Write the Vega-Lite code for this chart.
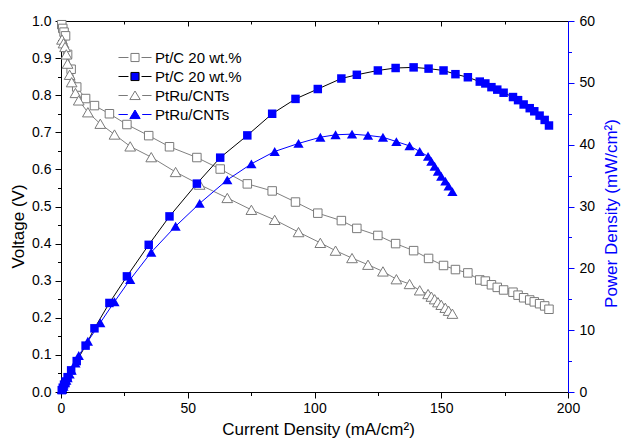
{
  "$schema": "https://vega.github.io/schema/vega-lite/v6.json",
  "width": 507,
  "height": 371,
  "autosize": "none",
  "padding": {"left": 61, "top": 21, "right": 53, "bottom": 47},
  "background": "white",
  "config": {
    "view": {"stroke": null},
    "font": "Liberation Sans",
    "axis": {
      "labelFont": "Liberation Sans",
      "titleFont": "Liberation Sans",
      "labelFontSize": 14,
      "titleFontSize": 17,
      "titleFontWeight": "normal",
      "labelColor": "black",
      "titleColor": "black",
      "domainColor": "black",
      "tickColor": "black",
      "domainWidth": 1,
      "tickWidth": 1,
      "grid": false,
      "labelFlush": false,
      "labelOverlap": false
    },
    "legend": {
      "orient": "none",
      "legendX": 66.5,
      "legendY": 29,
      "padding": 0,
      "symbolSize": 81,
      "symbolStrokeWidth": 1,
      "symbolOpacity": 1,
      "labelOffset": 12.5,
      "rowPadding": 3,
      "labelFont": "Liberation Sans",
      "labelFontSize": 15,
      "labelColor": "black"
    }
  },
  "datasets": {
    "voltage": [
      {"series": "PtC_V", "I": 0.3, "V": 0.99},
      {"series": "PtC_V", "I": 0.7, "V": 0.98},
      {"series": "PtC_V", "I": 1.2, "V": 0.97},
      {"series": "PtC_V", "I": 1.8, "V": 0.96},
      {"series": "PtC_V", "I": 2.6, "V": 0.91},
      {"series": "PtC_V", "I": 4.0, "V": 0.87},
      {"series": "PtC_V", "I": 6.2, "V": 0.822},
      {"series": "PtC_V", "I": 9.7, "V": 0.791},
      {"series": "PtC_V", "I": 13.2, "V": 0.772},
      {"series": "PtC_V", "I": 19.1, "V": 0.75},
      {"series": "PtC_V", "I": 26.0, "V": 0.721},
      {"series": "PtC_V", "I": 34.6, "V": 0.691},
      {"series": "PtC_V", "I": 42.8, "V": 0.661},
      {"series": "PtC_V", "I": 53.6, "V": 0.632},
      {"series": "PtC_V", "I": 62.8, "V": 0.601},
      {"series": "PtC_V", "I": 73.5, "V": 0.561},
      {"series": "PtC_V", "I": 83.3, "V": 0.542},
      {"series": "PtC_V", "I": 92.5, "V": 0.512},
      {"series": "PtC_V", "I": 101.3, "V": 0.482},
      {"series": "PtC_V", "I": 110.6, "V": 0.462},
      {"series": "PtC_V", "I": 116.7, "V": 0.441},
      {"series": "PtC_V", "I": 125.0, "V": 0.422},
      {"series": "PtC_V", "I": 132.0, "V": 0.4},
      {"series": "PtC_V", "I": 139.1, "V": 0.381},
      {"series": "PtC_V", "I": 145.0, "V": 0.36},
      {"series": "PtC_V", "I": 150.9, "V": 0.341},
      {"series": "PtC_V", "I": 155.6, "V": 0.33},
      {"series": "PtC_V", "I": 160.5, "V": 0.321},
      {"series": "PtC_V", "I": 165.2, "V": 0.302},
      {"series": "PtC_V", "I": 167.4, "V": 0.299},
      {"series": "PtC_V", "I": 169.8, "V": 0.289},
      {"series": "PtC_V", "I": 172.1, "V": 0.282},
      {"series": "PtC_V", "I": 174.6, "V": 0.275},
      {"series": "PtC_V", "I": 178.3, "V": 0.269},
      {"series": "PtC_V", "I": 180.3, "V": 0.261},
      {"series": "PtC_V", "I": 182.5, "V": 0.254},
      {"series": "PtC_V", "I": 184.9, "V": 0.248},
      {"series": "PtC_V", "I": 186.7, "V": 0.243},
      {"series": "PtC_V", "I": 188.8, "V": 0.238},
      {"series": "PtC_V", "I": 190.8, "V": 0.232},
      {"series": "PtC_V", "I": 192.5, "V": 0.223},
      {"series": "PtRu_V", "I": 0.4, "V": 0.95},
      {"series": "PtRu_V", "I": 1.0, "V": 0.94},
      {"series": "PtRu_V", "I": 1.6, "V": 0.93},
      {"series": "PtRu_V", "I": 2.1, "V": 0.91},
      {"series": "PtRu_V", "I": 2.6, "V": 0.885},
      {"series": "PtRu_V", "I": 3.4, "V": 0.855},
      {"series": "PtRu_V", "I": 4.2, "V": 0.835},
      {"series": "PtRu_V", "I": 5.7, "V": 0.806},
      {"series": "PtRu_V", "I": 7.0, "V": 0.786},
      {"series": "PtRu_V", "I": 10.6, "V": 0.754},
      {"series": "PtRu_V", "I": 15.5, "V": 0.723},
      {"series": "PtRu_V", "I": 21.1, "V": 0.694},
      {"series": "PtRu_V", "I": 27.3, "V": 0.662},
      {"series": "PtRu_V", "I": 35.6, "V": 0.633},
      {"series": "PtRu_V", "I": 45.2, "V": 0.593},
      {"series": "PtRu_V", "I": 54.7, "V": 0.559},
      {"series": "PtRu_V", "I": 65.6, "V": 0.523},
      {"series": "PtRu_V", "I": 75.1, "V": 0.491},
      {"series": "PtRu_V", "I": 84.3, "V": 0.464},
      {"series": "PtRu_V", "I": 93.7, "V": 0.431},
      {"series": "PtRu_V", "I": 102.3, "V": 0.402},
      {"series": "PtRu_V", "I": 108.3, "V": 0.381},
      {"series": "PtRu_V", "I": 114.8, "V": 0.361},
      {"series": "PtRu_V", "I": 121.1, "V": 0.343},
      {"series": "PtRu_V", "I": 127.0, "V": 0.325},
      {"series": "PtRu_V", "I": 132.3, "V": 0.304},
      {"series": "PtRu_V", "I": 137.5, "V": 0.291},
      {"series": "PtRu_V", "I": 141.5, "V": 0.274},
      {"series": "PtRu_V", "I": 144.8, "V": 0.264},
      {"series": "PtRu_V", "I": 146.1, "V": 0.257},
      {"series": "PtRu_V", "I": 147.4, "V": 0.25},
      {"series": "PtRu_V", "I": 148.7, "V": 0.242},
      {"series": "PtRu_V", "I": 150.0, "V": 0.235},
      {"series": "PtRu_V", "I": 151.6, "V": 0.227},
      {"series": "PtRu_V", "I": 152.9, "V": 0.219},
      {"series": "PtRu_V", "I": 154.4, "V": 0.211}
    ],
    "power": [
      {"series": "PtC_P", "I": 0.3, "P": 0.3},
      {"series": "PtC_P", "I": 0.7, "P": 0.7},
      {"series": "PtC_P", "I": 1.2, "P": 1.2},
      {"series": "PtC_P", "I": 1.8, "P": 1.7},
      {"series": "PtC_P", "I": 2.6, "P": 2.4},
      {"series": "PtC_P", "I": 4.0, "P": 3.5},
      {"series": "PtC_P", "I": 6.2, "P": 5.0},
      {"series": "PtC_P", "I": 9.7, "P": 7.5},
      {"series": "PtC_P", "I": 13.2, "P": 10.3},
      {"series": "PtC_P", "I": 19.1, "P": 14.4},
      {"series": "PtC_P", "I": 26.0, "P": 18.7},
      {"series": "PtC_P", "I": 34.6, "P": 23.8},
      {"series": "PtC_P", "I": 42.8, "P": 28.4},
      {"series": "PtC_P", "I": 53.6, "P": 33.7},
      {"series": "PtC_P", "I": 62.8, "P": 37.9},
      {"series": "PtC_P", "I": 73.5, "P": 41.5},
      {"series": "PtC_P", "I": 83.3, "P": 45.0},
      {"series": "PtC_P", "I": 92.5, "P": 47.4},
      {"series": "PtC_P", "I": 101.3, "P": 49.0},
      {"series": "PtC_P", "I": 110.6, "P": 50.7},
      {"series": "PtC_P", "I": 116.7, "P": 51.3},
      {"series": "PtC_P", "I": 125.0, "P": 52.0},
      {"series": "PtC_P", "I": 132.0, "P": 52.4},
      {"series": "PtC_P", "I": 139.1, "P": 52.5},
      {"series": "PtC_P", "I": 145.0, "P": 52.3},
      {"series": "PtC_P", "I": 150.9, "P": 52.0},
      {"series": "PtC_P", "I": 155.6, "P": 51.4},
      {"series": "PtC_P", "I": 160.5, "P": 50.9},
      {"series": "PtC_P", "I": 165.2, "P": 50.2},
      {"series": "PtC_P", "I": 167.4, "P": 49.9},
      {"series": "PtC_P", "I": 169.8, "P": 49.3},
      {"series": "PtC_P", "I": 172.1, "P": 48.9},
      {"series": "PtC_P", "I": 174.6, "P": 48.4},
      {"series": "PtC_P", "I": 178.3, "P": 47.7},
      {"series": "PtC_P", "I": 180.3, "P": 47.2},
      {"series": "PtC_P", "I": 182.5, "P": 46.5},
      {"series": "PtC_P", "I": 184.9, "P": 45.9},
      {"series": "PtC_P", "I": 186.7, "P": 45.4},
      {"series": "PtC_P", "I": 188.8, "P": 44.7},
      {"series": "PtC_P", "I": 190.8, "P": 44.0},
      {"series": "PtC_P", "I": 192.5, "P": 43.1},
      {"series": "PtRu_P", "I": 0.4, "P": 0.4},
      {"series": "PtRu_P", "I": 1.0, "P": 0.9},
      {"series": "PtRu_P", "I": 1.6, "P": 1.5},
      {"series": "PtRu_P", "I": 2.1, "P": 1.9},
      {"series": "PtRu_P", "I": 2.6, "P": 2.3},
      {"series": "PtRu_P", "I": 3.4, "P": 2.9},
      {"series": "PtRu_P", "I": 4.2, "P": 3.5},
      {"series": "PtRu_P", "I": 5.7, "P": 4.7},
      {"series": "PtRu_P", "I": 7.0, "P": 5.9},
      {"series": "PtRu_P", "I": 10.6, "P": 8.2},
      {"series": "PtRu_P", "I": 15.5, "P": 11.2},
      {"series": "PtRu_P", "I": 21.1, "P": 14.6},
      {"series": "PtRu_P", "I": 27.3, "P": 18.2},
      {"series": "PtRu_P", "I": 35.6, "P": 22.6},
      {"series": "PtRu_P", "I": 45.2, "P": 26.8},
      {"series": "PtRu_P", "I": 54.7, "P": 30.5},
      {"series": "PtRu_P", "I": 65.6, "P": 34.3},
      {"series": "PtRu_P", "I": 75.1, "P": 36.9},
      {"series": "PtRu_P", "I": 84.3, "P": 38.9},
      {"series": "PtRu_P", "I": 93.7, "P": 40.2},
      {"series": "PtRu_P", "I": 102.3, "P": 41.2},
      {"series": "PtRu_P", "I": 108.3, "P": 41.6},
      {"series": "PtRu_P", "I": 114.8, "P": 41.7},
      {"series": "PtRu_P", "I": 121.1, "P": 41.5},
      {"series": "PtRu_P", "I": 127.0, "P": 41.2},
      {"series": "PtRu_P", "I": 132.3, "P": 40.5},
      {"series": "PtRu_P", "I": 137.5, "P": 39.8},
      {"series": "PtRu_P", "I": 141.5, "P": 38.9},
      {"series": "PtRu_P", "I": 144.8, "P": 38.1},
      {"series": "PtRu_P", "I": 146.1, "P": 37.3},
      {"series": "PtRu_P", "I": 147.4, "P": 36.5},
      {"series": "PtRu_P", "I": 148.7, "P": 35.7},
      {"series": "PtRu_P", "I": 150.0, "P": 34.9},
      {"series": "PtRu_P", "I": 151.6, "P": 34.1},
      {"series": "PtRu_P", "I": 152.9, "P": 33.3},
      {"series": "PtRu_P", "I": 154.4, "P": 32.4}
    ]
  },
  "layer": [
    {
      "data": {"name": "voltage"},
      "encoding": {
        "x": {
          "field": "I", "type": "quantitative",
          "scale": {"domain": [0, 200], "nice": false, "zero": false},
          "axis": {
            "orient": "bottom",
            "values": [0, 25, 50, 75, 100, 125, 150, 175, 200],
            "labelExpr": "datum.value % 50 === 0 ? datum.label : ''",
            "tickSize": {"condition": {"test": "datum.value % 50 === 0", "value": 6}, "value": 3.5},
            "labelPadding": 3,
            "title": "Current Density (mA/cm²)",
            "titleX": 257,
            "titleY": 42,
            "titleAnchor": "middle",
            "titleAlign": "center",
            "titleBaseline": "alphabetic"
          }
        },
        "y": {
          "field": "V", "type": "quantitative",
          "scale": {"domain": [0, 1], "nice": false, "zero": false},
          "axis": {
            "orient": "left",
            "values": [0, 0.05, 0.1, 0.15, 0.2, 0.25, 0.3, 0.35, 0.4, 0.45, 0.5, 0.55, 0.6, 0.65, 0.7, 0.75, 0.8, 0.85, 0.9, 0.95, 1],
            "labelExpr": "round(datum.value * 20) % 2 === 0 ? format(datum.value, '.1f') : ''",
            "tickSize": {"condition": {"test": "round(datum.value * 20) % 2 === 0", "value": 6}, "value": 3.5},
            "labelPadding": 4,
            "title": "Voltage (V)",
            "titleX": -43,
            "titleY": 205,
            "titleAngle": -90,
            "titleAlign": "center",
            "titleBaseline": "middle"
          }
        }
      },
      "layer": [
        {
          "mark": {"type": "line", "color": "#808080", "strokeWidth": 1},
          "encoding": {"detail": {"field": "series", "type": "nominal"}}
        },
        {
          "transform": [{"filter": "datum.series === 'PtC_V'"}],
          "mark": {"type": "point", "shape": "square", "filled": true, "fill": "white", "stroke": "#7a7a7a", "strokeWidth": 1, "size": 72, "opacity": 1}
        },
        {
          "transform": [{"filter": "datum.series === 'PtRu_V'"}],
          "mark": {"type": "point", "shape": "triangle-up", "filled": true, "fill": "white", "stroke": "#7a7a7a", "strokeWidth": 1, "size": 115, "opacity": 1}
        },
        {
          "mark": {"type": "point", "opacity": 0, "strokeWidth": 1},
          "encoding": {
            "shape": {
              "field": "series", "type": "nominal",
              "scale": {"domain": ["PtC_V", "PtC_P", "PtRu_V", "PtRu_P"], "range": ["M-3.67,0H-1.45M1.45,0H3.67M-0.9,-0.9H0.9V0.9H-0.9Z", "M-3.67,0H-1.45M1.45,0H3.67M-0.9,-0.9H0.9V0.9H-0.9Z", "M-3.67,0H-1.6M1.6,0H3.67M0,-1L1.15,0.9H-1.15Z", "M-3.67,0H-1.6M1.6,0H3.67M0,-1L1.15,0.9H-1.15Z"]},
              "legend": {"title": null, "symbolOpacity": 1, "labelExpr": "indexof(datum.value, 'PtC') === 0 ? 'Pt/C 20 wt.%' : 'PtRu/CNTs'"}
            },
            "fill": {
              "field": "series", "type": "nominal",
              "scale": {"domain": ["PtC_V", "PtC_P", "PtRu_V", "PtRu_P"], "range": ["#ffffff", "#0000ff", "#ffffff", "#0000ff"]},
              "legend": {"title": null, "symbolOpacity": 1, "labelExpr": "indexof(datum.value, 'PtC') === 0 ? 'Pt/C 20 wt.%' : 'PtRu/CNTs'"}
            },
            "stroke": {
              "field": "series", "type": "nominal",
              "scale": {"domain": ["PtC_V", "PtC_P", "PtRu_V", "PtRu_P"], "range": ["#7a7a7a", "#000000", "#7a7a7a", "#0000ff"]},
              "legend": {"title": null, "symbolOpacity": 1, "labelExpr": "indexof(datum.value, 'PtC') === 0 ? 'Pt/C 20 wt.%' : 'PtRu/CNTs'"}
            }
          }
        }
      ]
    },
    {
      "data": {"name": "power"},
      "encoding": {
        "x": {
          "field": "I", "type": "quantitative",
          "scale": {"domain": [0, 200], "nice": false, "zero": false},
          "axis": {
            "orient": "top",
            "values": [0, 25, 50, 75, 100, 125, 150, 175, 200],
            "labels": false,
            "title": null,
            "tickSize": {"condition": {"test": "datum.value % 50 === 0", "value": -5}, "value": -3}
          }
        },
        "y": {
          "field": "P", "type": "quantitative",
          "scale": {"domain": [0, 60], "nice": false, "zero": false},
          "axis": {
            "orient": "right",
            "values": [0, 5, 10, 15, 20, 25, 30, 35, 40, 45, 50, 55, 60],
            "labelExpr": "datum.value % 10 === 0 ? datum.label : ''",
            "tickSize": {"condition": {"test": "datum.value % 10 === 0", "value": 6}, "value": 3.5},
            "labelPadding": 5,
            "domainColor": "#0000ff",
            "tickColor": "#0000ff",
            "title": "Power Density (mW/cm²)",
            "titleColor": "#0000ff",
            "titleX": 43,
            "titleY": 192,
            "titleAngle": -90,
            "titleAlign": "center",
            "titleBaseline": "middle"
          }
        }
      },
      "layer": [
        {
          "mark": {"type": "line", "strokeWidth": 1},
          "encoding": {
            "color": {"field": "series", "type": "nominal", "scale": {"domain": ["PtC_P", "PtRu_P"], "range": ["#000000", "#0000ff"]}, "legend": null}
          }
        },
        {
          "transform": [{"filter": "datum.series === 'PtC_P'"}],
          "mark": {"type": "point", "shape": "square", "filled": true, "fill": "#0000ff", "strokeWidth": 0, "size": 72, "opacity": 1}
        },
        {
          "transform": [{"filter": "datum.series === 'PtRu_P'"}],
          "mark": {"type": "point", "shape": "triangle-up", "filled": true, "fill": "#0000ff", "strokeWidth": 0, "size": 105, "opacity": 1}
        }
      ]
    }
  ],
  "resolve": {"scale": {"x": "independent", "y": "independent"}}
}
